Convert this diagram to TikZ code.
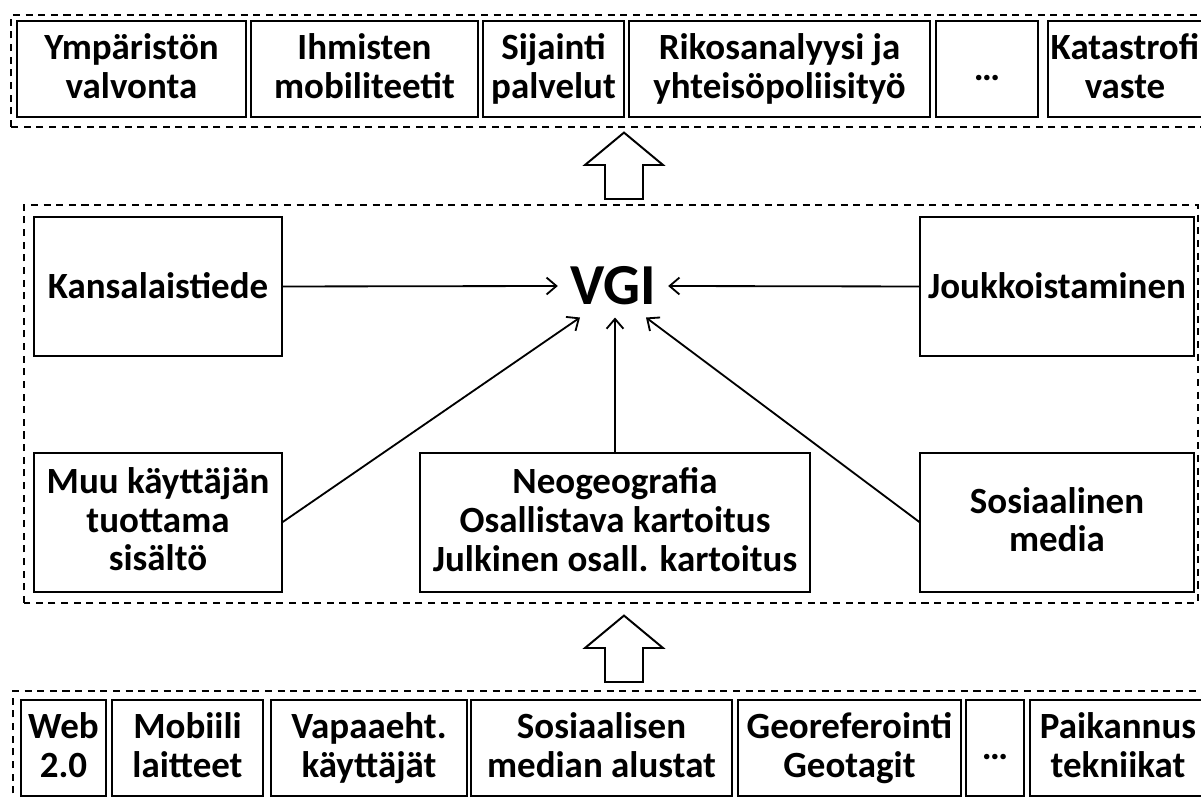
\documentclass[tikz,border=0pt]{standalone}
\usepackage{fontspec}
\setmainfont{Carlito}
\usetikzlibrary{positioning,arrows.meta}

\tikzset{
  cellbox/.style={draw, line width=1.4pt, inner sep=0pt, outer sep=0pt, minimum height=2.4cm, align=center,
    font=\bfseries\fontsize{26.3}{27.5}\selectfont,
    execute at begin node=\vphantom{Äg}, execute at end node=\vphantom{Äg}},
  midbox/.style={cellbox, minimum height=3.475cm},
  dashframe/.style={line width=1.3pt, dash pattern=on 5pt off 4pt},
  blockarrow/.style={draw, fill=white, line width=1.4pt, line join=miter},
  link/.style={->, line width=1.3pt}
}

\begin{document}
\begin{tikzpicture}[>={Straight Barb[length=7pt,width=12pt]}]
  \clip (0,0) rectangle (30.025,19.95);

  % ==========================================
  % APPLICATIONS (EN HAUT)
  % ==========================================
  \draw[dashframe] (0.275,16.775) rectangle (30.3,19.575);
  \node[cellbox, minimum width=5.725cm, anchor=west] (ymp) at (0.425,18.225) {Ympäristön\\valvonta};
  \node[cellbox, minimum width=5.675cm, right=0.125cm of ymp] (ihm) {Ihmisten\\mobiliteetit};
  \node[cellbox, minimum width=3.525cm, right=0.125cm of ihm] (sij) {Sijainti\\palvelut};
  \node[cellbox, minimum width=7.525cm, right=0.125cm of sij] (rik) {Rikosanalyysi ja\\yhteisöpoliisityö};
  \node[cellbox, minimum width=2.55cm, right=0.15cm of rik] (etc1) {…};
  \node[cellbox, minimum width=3.85cm, right=0.25cm of etc1] (kat) {Katastrofi\\vaste};

  % Flèches épaisses entre les niveaux
  \foreach \ybas in {14.975, 2.9}
    \draw[blockarrow] (15.6,\ybas) ++(-0.475,0) -- ++(0,0.85) -- ++(-0.5,0) -- ++(0.975,0.81)
      -- ++(0.975,-0.81) -- ++(-0.5,0) -- ++(0,-0.85) -- cycle;

  % ==========================================
  % VGI ET SES SOURCES (AU MILIEU)
  % ==========================================
  \draw[dashframe] (0.6,4.875) rectangle (29.95,14.825);
  \node[midbox, minimum width=6.2cm] (kans) at (3.95,12.7875) {Kansalaistiede};
  \node[midbox, minimum width=6.85cm] (jouk) at (26.425,12.7875) {Joukkoistaminen};
  \node[midbox, minimum width=6.2cm, below=2.425cm of kans] (muu) {Muu käyttäjän\\tuottama\\sisältö};
  \node[midbox, minimum width=9.75cm] (neo) at (15.375,6.8875) {Neogeografia\\Osallistava kartoitus\\Julkinen osall. kartoitus};
  \node[midbox, minimum width=6.85cm, below=2.425cm of jouk] (sos) {Sosiaalinen\\media};
  \node[font=\bfseries\fontsize{41.3}{45}\selectfont, inner sep=0.3cm] (vgi) at (15.325,12.8) {VGI};

  % Liens vers VGI
  \draw[link] (kans.east) -- (vgi.west);
  \draw[link] (jouk.west) -- (vgi.east);
  \draw[link] (neo.north) -- (neo.north |- vgi.south);
  \draw[link] (muu.east) -- ([xshift=-0.825cm]vgi.south);
  \draw[link] (sos.west) -- ([xshift=0.825cm]vgi.south);

  % ==========================================
  % TECHNOLOGIES (EN BAS)
  % ==========================================
  \draw[dashframe] (0.325,-0.2) rectangle (30.3,2.675);
  \node[cellbox, minimum width=2.125cm, anchor=west] (web) at (0.525,1.25) {Web\\2.0};
  \node[cellbox, minimum width=3.775cm, right=0.15cm of web] (mob) {Mobiili\\laitteet};
  \node[cellbox, minimum width=4.9cm, right=0.2cm of mob] (vap) {Vapaaeht.\\käyttäjät};
  \node[cellbox, minimum width=6.525cm, right=0.1cm of vap] (alu) {Sosiaalisen\\median alustat};
  \node[cellbox, minimum width=5.575cm, right=0.15cm of alu] (geo) {Georeferointi\\Geotagit};
  \node[cellbox, minimum width=1.45cm, right=0.125cm of geo] (etc2) {…};
  \node[cellbox, minimum width=4.4cm, right=0.15cm of etc2] (pai) {Paikannus\\tekniikat};

\end{tikzpicture}
\end{document}
